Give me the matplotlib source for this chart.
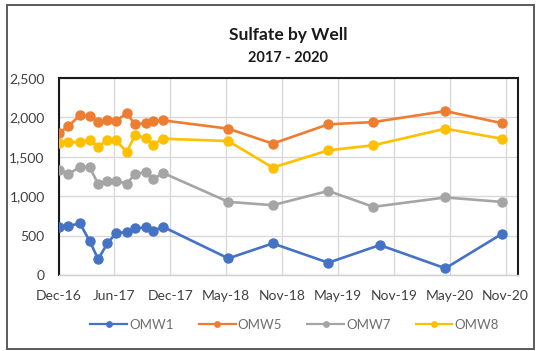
import matplotlib
matplotlib.use("Agg")
import matplotlib.pyplot as plt
from matplotlib.patches import Rectangle
import numpy as np
import datetime as dt

# ---- data ----
dates = ["2016-12-08", "2017-01-06", "2017-02-13", "2017-03-16", "2017-04-13",
         "2017-05-12", "2017-06-09", "2017-07-14", "2017-08-09", "2017-09-14",
         "2017-10-05", "2017-11-08", "2018-06-06", "2018-10-27", "2019-04-24",
         "2019-09-16", "2020-05-05", "2020-11-02"]
dates_omw1 = dates[:15] + ["2019-10-07", "2020-05-05", "2020-11-02"]

omw1 = [611, 620, 655, 434, 199, 401, 528, 548, 591, 604, 561, 611,
        211, 401, 156, 380, 85, 519]
omw5 = [1802, 1886, 2026, 2013, 1941, 1962, 1953, 2055, 1912, 1928, 1953, 1962,
        1857, 1667, 1912, 1941, 2080, 1928]
omw7 = [1338, 1279, 1371, 1371, 1152, 1194, 1194, 1161, 1279, 1308, 1212, 1295,
        928, 886, 1067, 865, 984, 928]
omw8 = [1675, 1688, 1688, 1718, 1624, 1718, 1709, 1561, 1772, 1743, 1655, 1730,
        1700, 1363, 1582, 1646, 1857, 1730]

series_names = ["OMW1", "OMW5", "OMW7", "OMW8"]
colors = ["#4472C4", "#ED7D31", "#A5A5A5", "#FFC000"]

tick_labels = ["Dec-16", "Jun-17", "Dec-17", "May-18", "Nov-18",
               "May-19", "Nov-19", "May-20", "Nov-20"]
axis_start = "2016-12-06"
axis_end = "2020-12-25"
tick_step_days = 180

title = "Sulfate by Well"
subtitle = "2017 - 2020"

# ---- plot ----
plt.rcParams['font.family'] = ['Lato', 'DejaVu Sans']

W, H = 536, 351
fig = plt.figure(figsize=(W / 100, H / 100), dpi=100)
fig.patch.set_facecolor("white")

# outer chart border
fig.patches.append(Rectangle((7 / W, 1 - 349 / H), (534 - 7) / W, (349 - 5) / H,
                             transform=fig.transFigure, fill=False,
                             edgecolor="#5a5a5a", linewidth=1.4))

ax = fig.add_axes([58.5 / W, 1 - 275 / H, (518 - 58.5) / W, (275 - 78) / H])

def todate(s):
    return dt.datetime.strptime(s, "%Y-%m-%d")

xd = [todate(d) for d in dates]
xd1 = [todate(d) for d in dates_omw1]
all_y = [omw1, omw5, omw7, omw8]
all_x = [xd1, xd, xd, xd]

for name, c, xs, ys in zip(series_names, colors, all_x, all_y):
    ax.plot(xs, ys, color=c, linewidth=1.9, marker="o", markersize=6.5,
            label=name, zorder=3)

start = todate(axis_start)
ticks = [start + dt.timedelta(days=tick_step_days * i) for i in range(len(tick_labels))]
ax.set_xticks(ticks)
ax.set_xticklabels(tick_labels)
ax.set_xlim(start, todate(axis_end))

ax.set_ylim(0, 2500)
yt = np.arange(0, 2501, 500)
ax.set_yticks(yt)
ax.set_yticklabels([f"{v:,}" for v in yt])

ax.grid(True, color="#d9d9d9", linewidth=1.0, zorder=0)
ax.set_axisbelow(True)
for s in ["left", "top", "right"]:
    ax.spines[s].set_color("#1a1a1a")
    ax.spines[s].set_linewidth(1.5)
ax.spines["bottom"].set_color("#d0d0d0")
ax.spines["bottom"].set_linewidth(1.0)

ax.tick_params(axis="both", length=0, labelsize=10, labelcolor="#404040")
ax.tick_params(axis="y", pad=10)
ax.tick_params(axis="x", pad=11)

fig.text(0.537, 1 - 35 / H, title, ha="center", va="center",
         fontsize=12.5, fontweight="bold", color="#1a1a1a")
fig.text(0.537, 1 - 58 / H, subtitle, ha="center", va="center",
         fontsize=10.5, fontweight="bold", color="#1a1a1a")

leg = fig.legend(loc="center", bbox_to_anchor=(294.5 / W, 1 - 325 / H), ncol=4,
                 frameon=False, fontsize=9.5, handlelength=2.8,
                 columnspacing=1.9, handletextpad=0.15, markerscale=0.6)
for t in leg.get_texts():
    t.set_color("#6e6e6e")
for h in leg.legend_handles:
    h.set_linewidth(1.6)

fig.savefig("out.png", dpi=100)
